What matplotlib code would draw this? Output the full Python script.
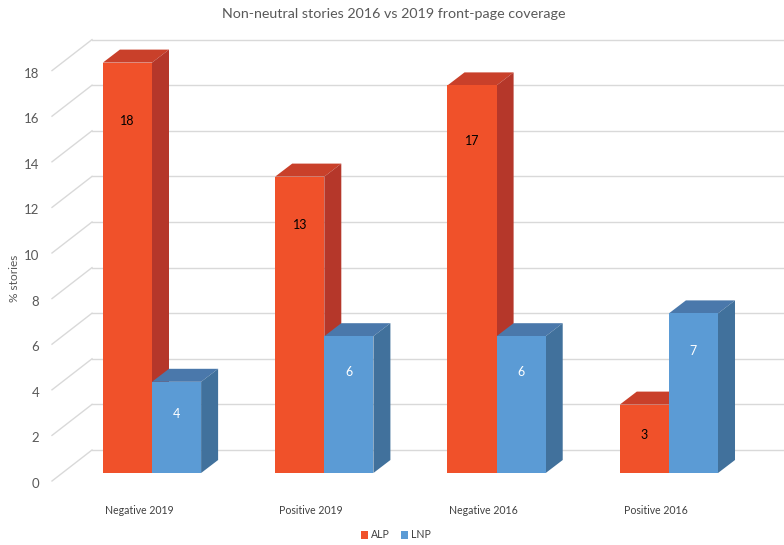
import matplotlib
matplotlib.use("Agg")
import matplotlib.pyplot as plt
from matplotlib.patches import Polygon, Patch
from matplotlib.transforms import ScaledTranslation

categories = ["Negative 2019", "Positive 2019", "Negative 2016", "Positive 2016"]
alp = [18, 13, 17, 3]
lnp = [4, 6, 6, 7]
yticks = [0, 2, 4, 6, 8, 10, 12, 14, 16, 18]

plt.rcParams["font.family"] = ["Lato", "DejaVu Sans"]
grey = "#595959"

fig = plt.figure(figsize=(7.84, 5.45), dpi=100)
# axes = front plane of the bars
ax = fig.add_axes([52 / 784, 72 / 545, 732 / 784, 473 / 545])
px_x = 172.3   # pixels per category
px_y = 22.8    # pixels per unit
ax.set_xlim(-100 / px_x, 632 / px_x)
ax.set_ylim(0, 473 / px_y)
for s in ax.spines.values():
    s.set_visible(False)

# depth offsets (pixels -> data)
bdx, bdy = 17 / px_x, 13 / px_y      # bar depth
wdx, wdy = 30 / px_x, 23 / px_y      # back wall
fdx, fdy = -10 / px_x, -8 / px_y     # label plane

x_left, x_right = ax.get_xlim()
for v in yticks:
    ax.plot([-60 / px_x, x_right], [v + wdy, v + wdy],
            color="#d9d9d9", lw=1, zorder=1, clip_on=False)
    ax.plot([x_left, -60 / px_x], [v + fdy, v + wdy],
            color="#d9d9d9", lw=1, zorder=1, clip_on=False)

w = 0.285
series = [
    (alp, -w / 2, "#F0512A", "#C9402A", "#B5372A", "black", 2),
    (lnp, w / 2, "#5B9BD5", "#4A78AB", "#41719C", "white", 3),
]
for vals, off, front, top, side, tcol, z in series:
    xs = [i + off for i in range(len(vals))]
    ax.bar(xs, vals, width=w, color=front, zorder=z + 0.5)
    for x, v in zip(xs, vals):
        x0, x1 = x - w / 2, x + w / 2
        ax.add_patch(Polygon([(x0, v), (x0 + bdx, v + bdy), (x1 + bdx, v + bdy), (x1, v)],
                             closed=True, facecolor=top, edgecolor="none", zorder=z, clip_on=False))
        ax.add_patch(Polygon([(x1, 0), (x1, v), (x1 + bdx, v + bdy), (x1 + bdx, bdy)],
                             closed=True, facecolor=side, edgecolor="none", zorder=z, clip_on=False))
        ax.text(x, 0.92 * v - 1.1, str(v), ha="center", va="center",
                fontsize=9, color=tcol, zorder=z + 1)

ax.set_yticks(yticks)
ax.set_yticklabels([str(t) for t in yticks], fontsize=9.5, color=grey)
ax.tick_params(axis="y", length=0, pad=9)
shift_y = ScaledTranslation(0, -10 / 100, fig.dpi_scale_trans)
for lab in ax.get_yticklabels():
    lab.set_transform(lab.get_transform() + shift_y)

ax.set_xticks(range(len(categories)))
ax.set_xticklabels(categories, fontsize=7.6, color="#404040")
ax.tick_params(axis="x", length=0, pad=23)
shift_x = ScaledTranslation(-13 / 100, 0, fig.dpi_scale_trans)
for lab in ax.get_xticklabels():
    lab.set_transform(lab.get_transform() + shift_x)

fig.text(14 / 784, 1 - 278 / 545, "% stories", rotation=90, ha="center", va="center",
         fontsize=8.6, color=grey)
fig.text(394 / 784, 1 - 14 / 545, "Non-neutral stories 2016 vs 2019 front-page coverage",
         ha="center", va="center", fontsize=10.3, color=grey)

handles = [Patch(facecolor="#F0512A", label="ALP"), Patch(facecolor="#5B9BD5", label="LNP")]
fig.legend(handles=handles, loc="center", bbox_to_anchor=(396 / 784, 1 - 535 / 545), ncol=2,
           frameon=False, fontsize=7.6, handlelength=0.7, handleheight=0.7,
           handletextpad=0.3, columnspacing=1.0, labelcolor="#404040")

fig.savefig("out.png", dpi=100)
